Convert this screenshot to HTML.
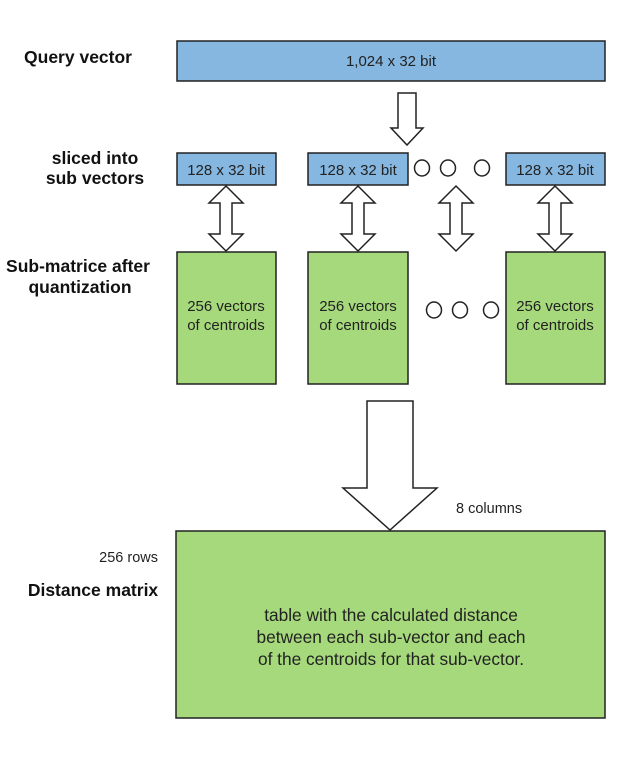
<!DOCTYPE html>
<html><head><style>
body{margin:0;background:#fff;}
svg text{font-family:"Liberation Sans",Arial,sans-serif;}
</style></head><body>
<svg width="638" height="774" viewBox="0 0 638 774" xmlns="http://www.w3.org/2000/svg">
<g font-weight="bold" font-size="17.5" fill="#111" text-anchor="middle">
<text x="78" y="63">Query vector</text>
<text x="95" y="164">sliced into</text>
<text x="95" y="184">sub vectors</text>
<text x="78" y="272">Sub-matrice after</text>
<text x="80" y="293">quantization</text>
<text x="93" y="596">Distance matrix</text>
</g>
<text x="158" y="562" font-size="14.5" text-anchor="end" fill="#222">256 rows</text>
<text x="456" y="513" font-size="14.5" fill="#222">8 columns</text>

<g stroke="#222" stroke-width="1.5">
<rect x="177" y="41" width="428" height="40" fill="#85b7e1"/>
<rect x="177" y="153" width="99" height="32" fill="#85b7e1"/>
<rect x="308" y="153" width="100" height="32" fill="#85b7e1"/>
<rect x="506" y="153" width="99" height="32" fill="#85b7e1"/>
<rect x="177" y="252" width="99" height="132" fill="#a6d97b"/>
<rect x="308" y="252" width="100" height="132" fill="#a6d97b"/>
<rect x="506" y="252" width="99" height="132" fill="#a6d97b"/>
<rect x="176" y="531" width="429" height="187" fill="#a6d97b"/>
<g fill="#fff">
<polygon points="398,93 416,93 416,128 423,128 407,145 391,128 398,128"/>
<ellipse cx="422" cy="168" rx="7.5" ry="8"/>
<ellipse cx="448" cy="168" rx="7.5" ry="8"/>
<ellipse cx="482" cy="168" rx="7.5" ry="8"/>
<polygon points="367,401 413,401 413,488 437,488 390,530 343,488 367,488"/>
</g>
</g>
<g stroke="#222" stroke-width="1.5" fill="#fff">
<polygon id="da" points="226,186 243,203 232,203 232,234 243,234 226,251 209,234 220,234 220,203 209,203"/>
<use href="#da" x="132"/>
<use href="#da" x="230"/>
<use href="#da" x="329"/>
</g>
<g font-size="15" fill="#222" text-anchor="middle">
<text x="391" y="66">1,024 x 32 bit</text>
<text x="226" y="175">128 x 32 bit</text>
<text x="358" y="175">128 x 32 bit</text>
<text x="555" y="175">128 x 32 bit</text>
<text x="226" y="311">256 vectors</text><text x="226" y="330">of centroids</text>
<text x="358" y="311">256 vectors</text><text x="358" y="330">of centroids</text>
<text x="555" y="311">256 vectors</text><text x="555" y="330">of centroids</text>
<text x="391" y="621" font-size="17.3">table with the calculated distance</text>
<text x="391" y="643" font-size="17.3">between each sub-vector and each</text>
<text x="391" y="665" font-size="17.3">of the centroids for that sub-vector.</text>
</g>
<g stroke="#222" stroke-width="1.5" fill="#fff">
<ellipse cx="434" cy="310" rx="7.5" ry="8"/>
<ellipse cx="460" cy="310" rx="7.5" ry="8"/>
<ellipse cx="491" cy="310" rx="7.5" ry="8"/>
</g>
</svg>
</body></html>
